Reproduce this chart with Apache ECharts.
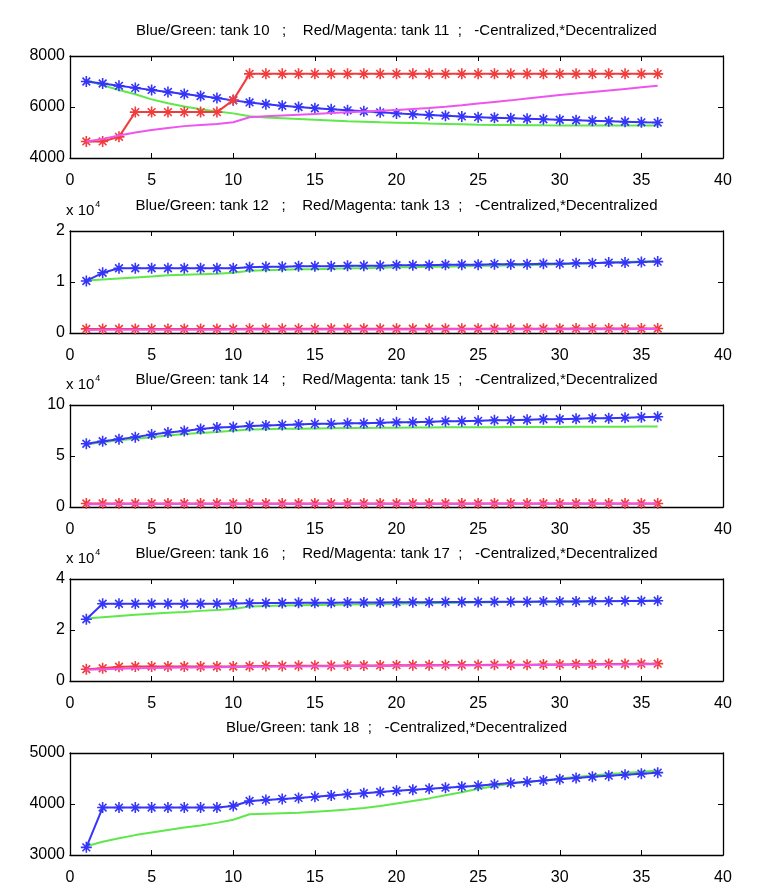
<!DOCTYPE html>
<html>
<head>
<meta charset="utf-8">
<script src="https://cdn.jsdelivr.net/npm/echarts@6/dist/echarts.min.js"></script>
<style>html,body{margin:0;padding:0;background:#fff;}#c{width:783px;height:896px;}</style>
</head>
<body>
<div id="c"></div>
<script>
// ---- data ----
const steps = [1,2,3,4,5,6,7,8,9,10,11,12,13,14,15,16,17,18,19,20,21,22,23,24,25,26,27,28,29,30,31,32,33,34,35,36];

const titles = [
  "Blue/Green: tank 10   ;    Red/Magenta: tank 11  ;   -Centralized,*Decentralized",
  "Blue/Green: tank 12   ;    Red/Magenta: tank 13  ;   -Centralized,*Decentralized",
  "Blue/Green: tank 14   ;    Red/Magenta: tank 15  ;   -Centralized,*Decentralized",
  "Blue/Green: tank 16   ;    Red/Magenta: tank 17  ;   -Centralized,*Decentralized",
  "Blue/Green: tank 18  ;   -Centralized,*Decentralized"
];

// tank 10 / 11
const dec10 = [7000,6920,6830,6750,6670,6590,6510,6430,6350,6260,6180,6110,6050,6000,5950,5910,5870,5830,5790,5750,5720,5690,5660,5630,5600,5580,5560,5540,5520,5500,5480,5460,5440,5420,5400,5390];
const cen10 = [7050,6850,6670,6500,6300,6150,6020,5910,5820,5750,5640,5590,5560,5530,5500,5470,5440,5420,5400,5385,5370,5350,5335,5320,5300,5295,5290,5285,5280,5278,5275,5273,5272,5271,5270,5270];
const dec11 = [4650,4650,4830,5800,5800,5800,5800,5800,5800,6270,7300,7300,7300,7300,7300,7300,7300,7300,7300,7300,7300,7300,7300,7300,7300,7300,7300,7300,7300,7300,7300,7300,7300,7300,7300,7300];
const cen11 = [4650,4750,4880,5000,5100,5180,5250,5290,5330,5400,5600,5640,5670,5700,5730,5760,5790,5820,5850,5880,5920,5960,6010,6070,6140,6200,6260,6330,6400,6470,6530,6590,6650,6710,6770,6830];

// tank 12 / 13
const dec12 = [10200,11800,12700,12700,12700,12700,12700,12700,12700,12700,12900,13000,13000,13100,13100,13100,13200,13200,13200,13300,13300,13300,13400,13400,13400,13500,13500,13500,13600,13600,13700,13700,13800,13800,13900,14000];
const cen12 = [10300,10500,10700,10900,11100,11300,11400,11500,11600,11800,12200,12300,12400,12500,12500,12600,12700,12700,12800,12900,12900,13000,13000,13100,13200,13200,13300,13300,13400,13500,13600,13700,13800,13900,14000,14100];
const dec13 = [800,800,800,800,800,800,800,800,800,800,820,820,820,820,820,830,830,830,830,830,840,840,840,840,840,850,850,850,850,850,860,860,860,860,870,870];
const cen13 = [600,620,630,640,650,650,660,660,660,670,680,680,680,690,690,690,700,700,700,710,710,710,720,720,720,730,730,730,740,740,740,750,750,750,760,760];

// tank 14 / 15
const dec14 = [62000,64500,66500,68500,71000,73000,74500,76500,78000,78500,79500,80000,80500,81000,81500,81500,82000,82000,82500,83000,83000,83500,84000,84000,84500,85000,85000,85500,86000,86000,86500,87000,87000,87500,88000,88500];
const cen14 = [61500,63500,65500,67000,68500,70000,71500,72500,73500,74800,76000,76300,76600,76800,77000,77200,77400,77500,77600,77800,77900,78000,78100,78200,78200,78300,78400,78400,78500,78500,78600,78600,78700,78700,78800,78800];
const dec15 = [3500,3500,3500,3500,3500,3500,3500,3500,3500,3500,3500,3500,3500,3500,3500,3500,3500,3500,3500,3500,3500,3500,3500,3500,3500,3500,3500,3500,3500,3500,3500,3500,3500,3500,3500,3500];
const cen15 = [2800,2800,2850,2850,2850,2900,2900,2900,2900,2950,2950,2950,2950,3000,3000,3000,3000,3000,3000,3050,3050,3050,3050,3050,3100,3100,3100,3100,3100,3150,3150,3150,3150,3150,3200,3200];

// tank 16 / 17
const dec16 = [24200,30300,30300,30300,30300,30300,30300,30300,30300,30400,30500,30600,30600,30700,30700,30700,30800,30800,30800,30900,30900,30900,31000,31000,31000,31100,31100,31100,31200,31200,31200,31300,31300,31400,31400,31500];
const cen16 = [24500,25000,25500,26000,26400,26800,27100,27500,27800,28200,29200,29400,29600,29700,29800,29900,30000,30100,30200,30300,30400,30500,30600,30700,30800,30900,31000,31000,31100,31200,31200,31300,31400,31400,31500,31600];
const dec17 = [4600,5000,5600,5700,5700,5700,5700,5700,5700,5700,5800,5900,5900,6000,6000,6000,6100,6100,6100,6200,6200,6200,6300,6300,6300,6400,6400,6400,6500,6500,6600,6600,6700,6700,6800,6800];
const cen17 = [4400,4600,4800,5000,5100,5200,5300,5300,5400,5500,5600,5600,5700,5700,5800,5800,5900,5900,5900,6000,6000,6100,6100,6100,6200,6200,6200,6300,6300,6400,6400,6400,6500,6500,6600,6600];

// tank 18
const dec18 = [3150,3930,3930,3930,3930,3930,3930,3930,3930,3960,4060,4080,4100,4120,4140,4165,4190,4210,4235,4260,4280,4300,4320,4340,4360,4385,4410,4435,4460,4485,4510,4535,4555,4575,4595,4615];
const cen18 = [3170,3260,3330,3390,3440,3490,3540,3580,3630,3690,3800,3810,3820,3830,3850,3870,3890,3920,3960,4010,4060,4110,4170,4230,4300,4350,4400,4430,4460,4500,4530,4560,4590,4610,4630,4650];

// axis ranges and tick labels
const xMin = 0, xMax = 40, xStep = 5;
const yRanges = [[4000,8000,2000],[0,20000,10000],[0,100000,50000],[0,40000,20000],[3000,5000,1000]];
const yScaleDiv = [1, 10000, 10000, 10000, 1];
const yExpLabel = [null, "x 10{s|4}", "x 10{s|4}", "x 10{s|4}", null];

// ---- chart ----
const BLUE = '#3535fa', GREEN = '#5ee84a', RED = '#f23c3c', MAGENTA = '#ee55ee';
const FONT = '"Liberation Sans",Arial,sans-serif';
const STAR = 'path://M5,0L5,10M0,5L10,5M1.5,1.5L8.5,8.5M1.5,8.5L8.5,1.5';

const tops = [56, 231, 405, 579, 753];
const H = 102, L = 70, R = 60;

const panels = [
  {dec:[dec10, dec11], cen:[cen10, cen11]},
  {dec:[dec12, dec13], cen:[cen12, cen13]},
  {dec:[dec14, dec15], cen:[cen14, cen15]},
  {dec:[dec16, dec17], cen:[cen16, cen17]},
  {dec:[dec18], cen:[cen18]}
];

const grid = [], xAxis = [], yAxis = [], series = [], graphic = [];
const axisLine = {show:true, onZero:false, lineStyle:{color:'#000', width:1.3}};
const tick = {show:true, inside:true, length:5, lineStyle:{color:'#000', width:1}};
const lab = {color:'#000', fontSize:16, fontFamily:FONT};

function pairs(arr){ return steps.map((s,i)=>[s, arr[i]]); }

panels.forEach((p, i) => {
  grid.push({left:L, right:R, top:tops[i], height:H, containLabel:false});
  const [ymin, ymax, yint] = yRanges[i];
  xAxis.push({gridIndex:i, type:'value', position:'bottom', min:xMin, max:xMax, interval:xStep,
    axisLine, axisTick:tick, splitLine:{show:false}, axisLabel:Object.assign({margin:15}, lab)});
  xAxis.push({gridIndex:i, type:'value', position:'top', min:xMin, max:xMax, interval:xStep,
    axisLine, axisTick:tick, splitLine:{show:false}, axisLabel:{show:false}});
  const div = yScaleDiv[i];
  const yl = {gridIndex:i, type:'value', position:'left', min:ymin, max:ymax, interval:yint,
    axisLine, axisTick:tick, splitLine:{show:false},
    axisLabel:Object.assign({margin:5, formatter: v => String(v/div)}, lab)};
  if (yExpLabel[i]) {
    yl.name = yExpLabel[i];
    yl.nameLocation = 'end';
    yl.nameGap = 10;
    yl.nameTextStyle = {color:'#000', fontSize:15, fontFamily:FONT, align:'left', padding:[0,0,0,-4],
      rich:{s:{fontSize:9, fontFamily:FONT, color:'#000', verticalAlign:'top', padding:[0,0,12,1]}}};
  }
  yAxis.push(yl);
  yAxis.push({gridIndex:i, type:'value', position:'right', min:ymin, max:ymax, interval:yint,
    axisLine, axisTick:tick, splitLine:{show:false}, axisLabel:{show:false}});

  const xi = 2*i, yi = 2*i;
  const colsDec = [BLUE, RED], colsCen = [GREEN, MAGENTA];
  const zCen = [2, 5], zDec = [3, 4];
  p.dec.forEach((arr, k) => {
    series.push({type:'line', xAxisIndex:xi, yAxisIndex:yi, data:pairs(p.cen[k]),
      showSymbol:false, symbol:'none', silent:true, animation:false,
      lineStyle:{color:colsCen[k], width:2}, z:zCen[k]});
    series.push({type:'line', xAxisIndex:xi, yAxisIndex:yi, data:pairs(arr),
      symbol:STAR, symbolSize:11, showSymbol:true, silent:true, animation:false,
      lineStyle:{color:colsDec[k], width:2},
      itemStyle:{color:colsDec[k], borderColor:colsDec[k], borderWidth:1.6}, z:zDec[k]});
  });

  graphic.push({type:'text', x:L + (783-L-R)/2, y:tops[i]-25, silent:true,
    style:{text:titles[i], fill:'#000', font:'15px ' + FONT, textAlign:'center', textVerticalAlign:'middle'}});
});

const chart = echarts.init(document.getElementById('c'), null, {renderer:'canvas'});
chart.setOption({backgroundColor:'#fff', animation:false, grid, xAxis, yAxis, series, graphic});
</script>
</body>
</html>
